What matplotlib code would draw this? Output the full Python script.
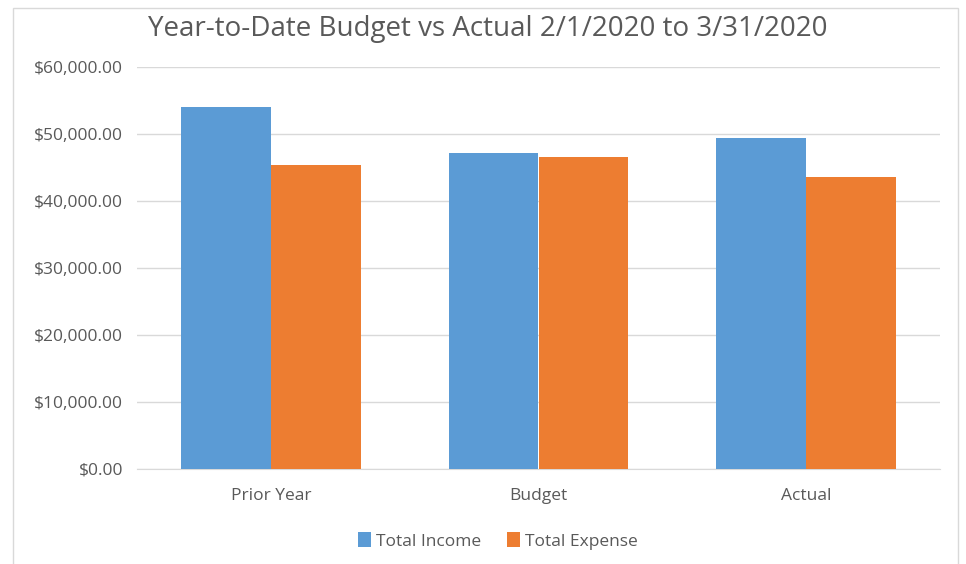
import numpy as np
import matplotlib
matplotlib.use('Agg')
import matplotlib.pyplot as plt
from matplotlib.patches import Rectangle
from matplotlib.ticker import FuncFormatter

categories = ['Prior Year', 'Budget', 'Actual']
total_income = [54100, 47100, 49450]
total_expense = [45350, 46500, 43650]
y_ticks = [0, 10000, 20000, 30000, 40000, 50000, 60000]

blue = '#5b9bd5'
orange = '#ed7d31'
text_grey = '#595959'

plt.rcParams['font.family'] = ['Open Sans', 'DejaVu Sans']

fig = plt.figure(figsize=(9.66, 5.64), dpi=100)
ax = fig.add_axes([137/966, 1 - 469/564, (940 - 137)/966, (469 - 67)/564])

# chart border
fig.patches.append(Rectangle((13/966, -0.01), (958 - 13)/966, 1 - 8/564 + 0.01,
                             transform=fig.transFigure, fill=False,
                             edgecolor='#d9d9d9', linewidth=1))

x = np.arange(len(categories))
w = 0.335
ax.bar(x - w/2, total_income, w, color=blue, label='Total Income', zorder=3)
ax.bar(x + w/2, total_expense, w, color=orange, label='Total Expense', zorder=3)

ax.set_xlim(-0.5, 2.5)
ax.set_ylim(0, 60000)
ax.set_yticks(y_ticks)
ax.yaxis.set_major_formatter(FuncFormatter(lambda v, p: '${:,.2f}'.format(v)))
ax.set_xticks(x)
ax.set_xticklabels(categories)
ax.grid(axis='y', color='#d9d9d9', linewidth=1, zorder=0)
for s in ['top', 'right', 'left']:
    ax.spines[s].set_visible(False)
ax.spines['bottom'].set_color('#d9d9d9')
ax.tick_params(axis='both', length=0, labelsize=12.5, colors=text_grey)
ax.tick_params(axis='y', pad=10)
ax.tick_params(axis='x', pad=13.5)

fig.text(488/966, 1 - 29/564, 'Year-to-Date Budget vs Actual 2/1/2020 to 3/31/2020',
         ha='center', va='center', fontsize=20, color=text_grey)

fig.legend(loc='center', bbox_to_anchor=(498/966, 1 - 541/564), ncol=2, frameon=False,
           fontsize=12.5, labelcolor=text_grey, handlelength=0.72, handleheight=0.9,
           handletextpad=0.3, columnspacing=1.5)

fig.savefig('out.png', dpi=100)
